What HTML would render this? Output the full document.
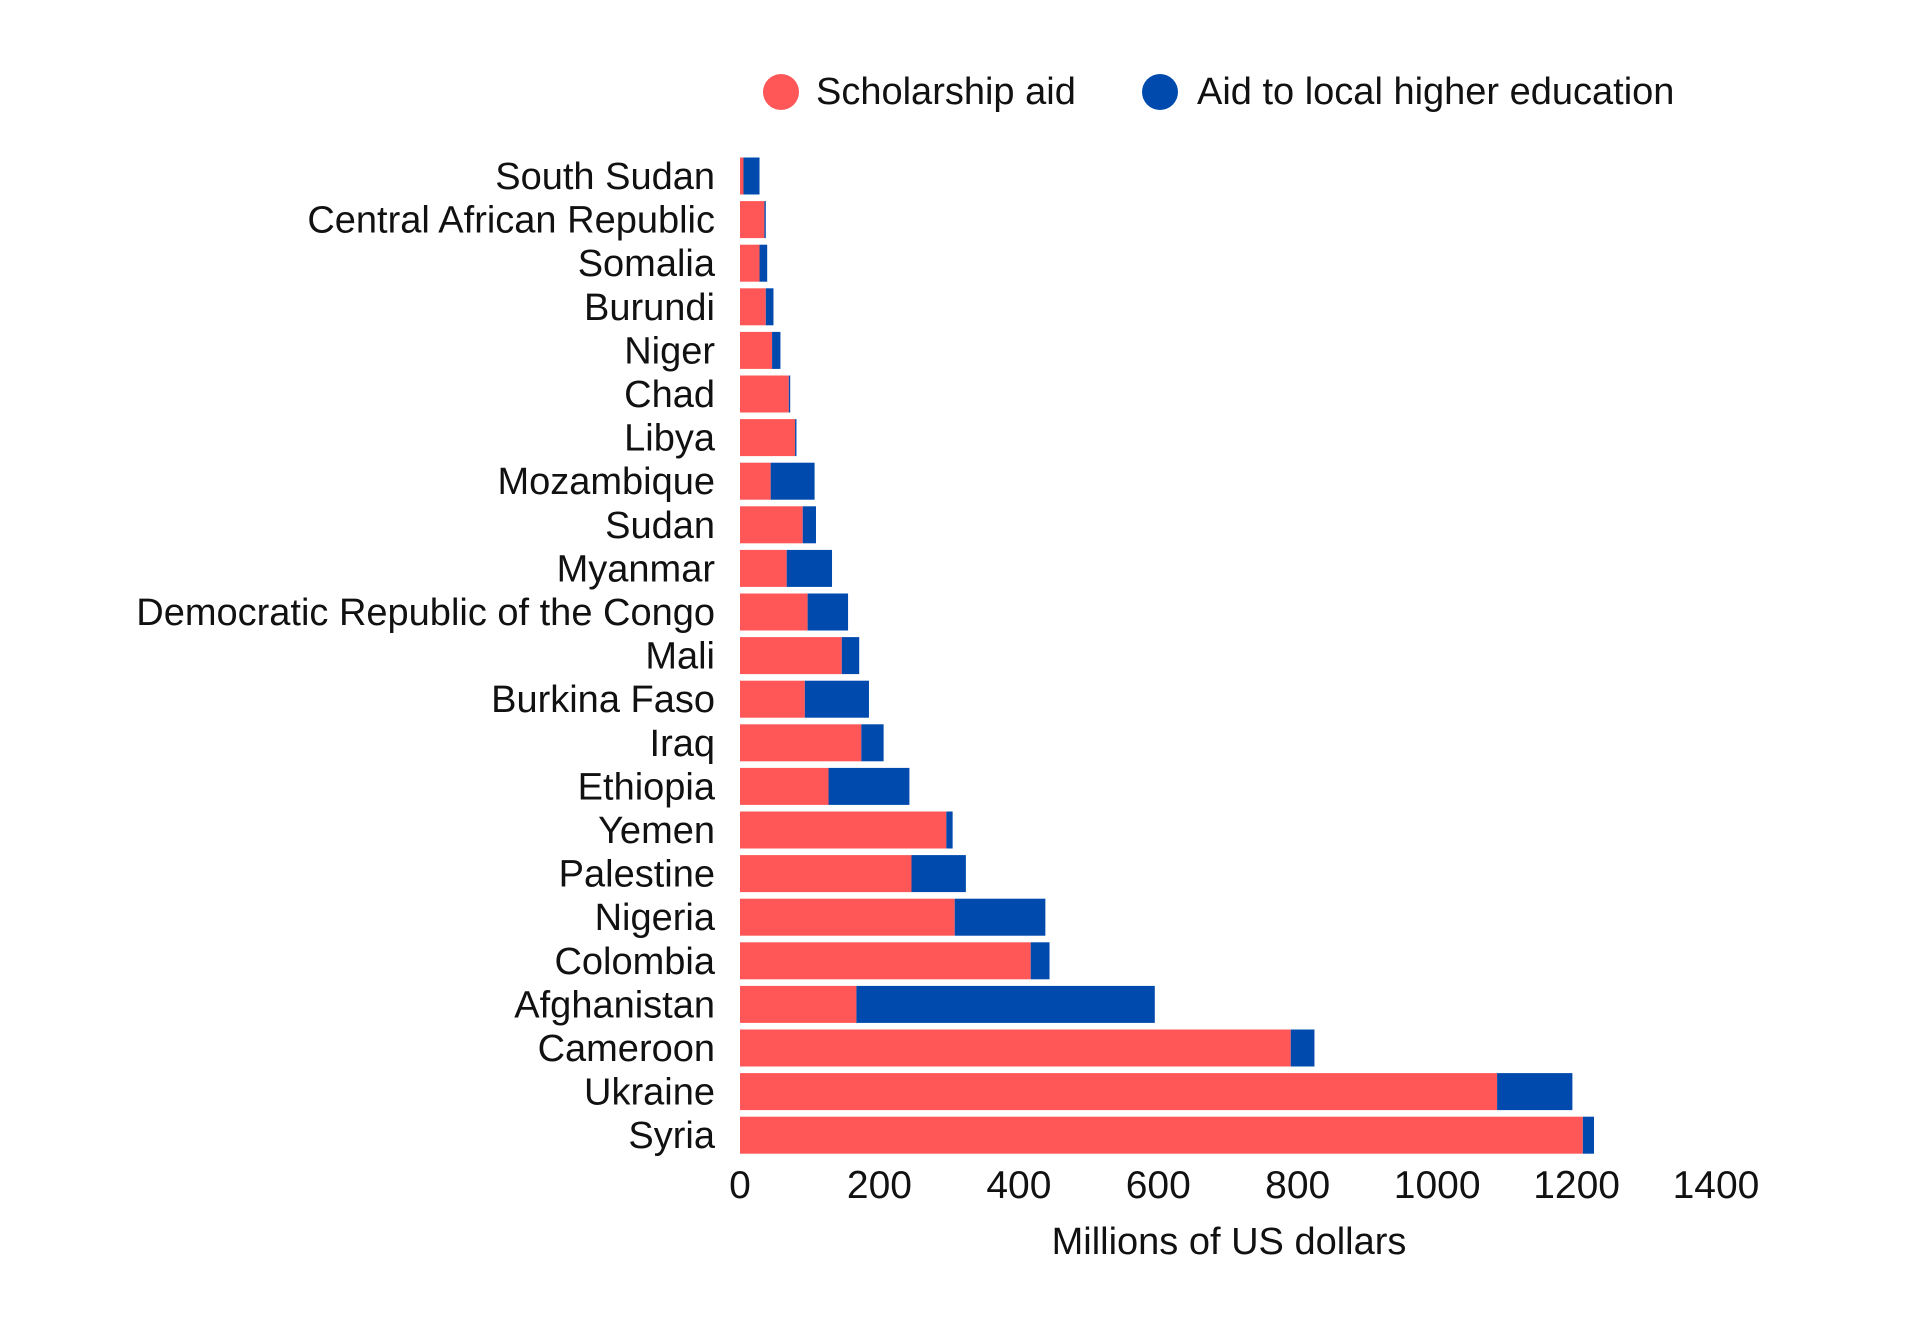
<!DOCTYPE html>
<html><head><meta charset="utf-8">
<style>
html,body{margin:0;padding:0;background:#fff;}
svg{display:block;font-family:"Liberation Sans",sans-serif;}
</style></head>
<body>
<svg id="chart" width="1920" height="1318" viewBox="0 0 1920 1318" xmlns="http://www.w3.org/2000/svg">
  <g>
    <g>
      <circle cx="781" cy="92" r="18" fill="#FF5757"/>
      <text x="816" y="104" font-size="38" fill="#111">Scholarship aid</text>
    </g>
    <g>
      <circle cx="1160" cy="92" r="18" fill="#004AAD"/>
      <text x="1197" y="104" font-size="38" fill="#111">Aid to local higher education</text>
    </g>
  </g>
  <g id="bars"></g>
  <g id="ylabels"></g>
  <g id="xticks"></g>
  <text x="1229" y="1254" font-size="38" fill="#111" text-anchor="middle">Millions of US dollars</text>
</svg>
<script>
const categories = ["South Sudan","Central African Republic","Somalia","Burundi","Niger","Chad","Libya","Mozambique","Sudan","Myanmar","Democratic Republic of the Congo","Mali","Burkina Faso","Iraq","Ethiopia","Yemen","Palestine","Nigeria","Colombia","Afghanistan","Cameroon","Ukraine","Syria"];
const scholarship = [5,35,28,37,46,70,79,44,90,67,97,146,93,174,127,296,246,308,417,167,790,1086,1209];
const localAid = [23,2,11,11,12,2,2,63,19,65,58,25,92,32,116,9,78,130,27,428,34,108,16];
const tickValues = [0,200,400,600,800,1000,1200,1400];

const NS = "http://www.w3.org/2000/svg";
const x0 = 740, pxPer = 976/1400;
const y0 = 176, step = 43.6, barH = 37;
const xs = v => x0 + v * pxPer;
const yc = i => y0 + i * step;

const bars = document.getElementById('bars');
const yl = document.getElementById('ylabels');
const xt = document.getElementById('xticks');

categories.forEach((c, i) => {
  const r = document.createElementNS(NS, 'rect');
  r.setAttribute('x', xs(0));
  r.setAttribute('y', yc(i) - barH / 2);
  r.setAttribute('width', xs(scholarship[i]) - xs(0));
  r.setAttribute('height', barH);
  r.setAttribute('fill', '#FF5757');
  
  
  bars.appendChild(r);

  const b = document.createElementNS(NS, 'rect');
  b.setAttribute('x', xs(scholarship[i]));
  b.setAttribute('y', yc(i) - barH / 2);
  b.setAttribute('width', xs(scholarship[i] + localAid[i]) - xs(scholarship[i]));
  b.setAttribute('height', barH);
  b.setAttribute('fill', '#004AAD');
  
  
  bars.appendChild(b);

  const t = document.createElementNS(NS, 'text');
  t.setAttribute('x', 715);
  t.setAttribute('y', yc(i) + 13);
  t.setAttribute('font-size', '38');
  t.setAttribute('text-anchor', 'end');
  t.setAttribute('fill', '#111');
  t.textContent = c;
  
  
  yl.appendChild(t);
});

tickValues.forEach(v => {
  const t = document.createElementNS(NS, 'text');
  t.setAttribute('x', xs(v));
  t.setAttribute('y', 1198);
  t.setAttribute('font-size', '39');
  t.setAttribute('text-anchor', 'middle');
  t.setAttribute('fill', '#111');
  t.textContent = v;
  
  
  xt.appendChild(t);
});
</script>
</body></html>
